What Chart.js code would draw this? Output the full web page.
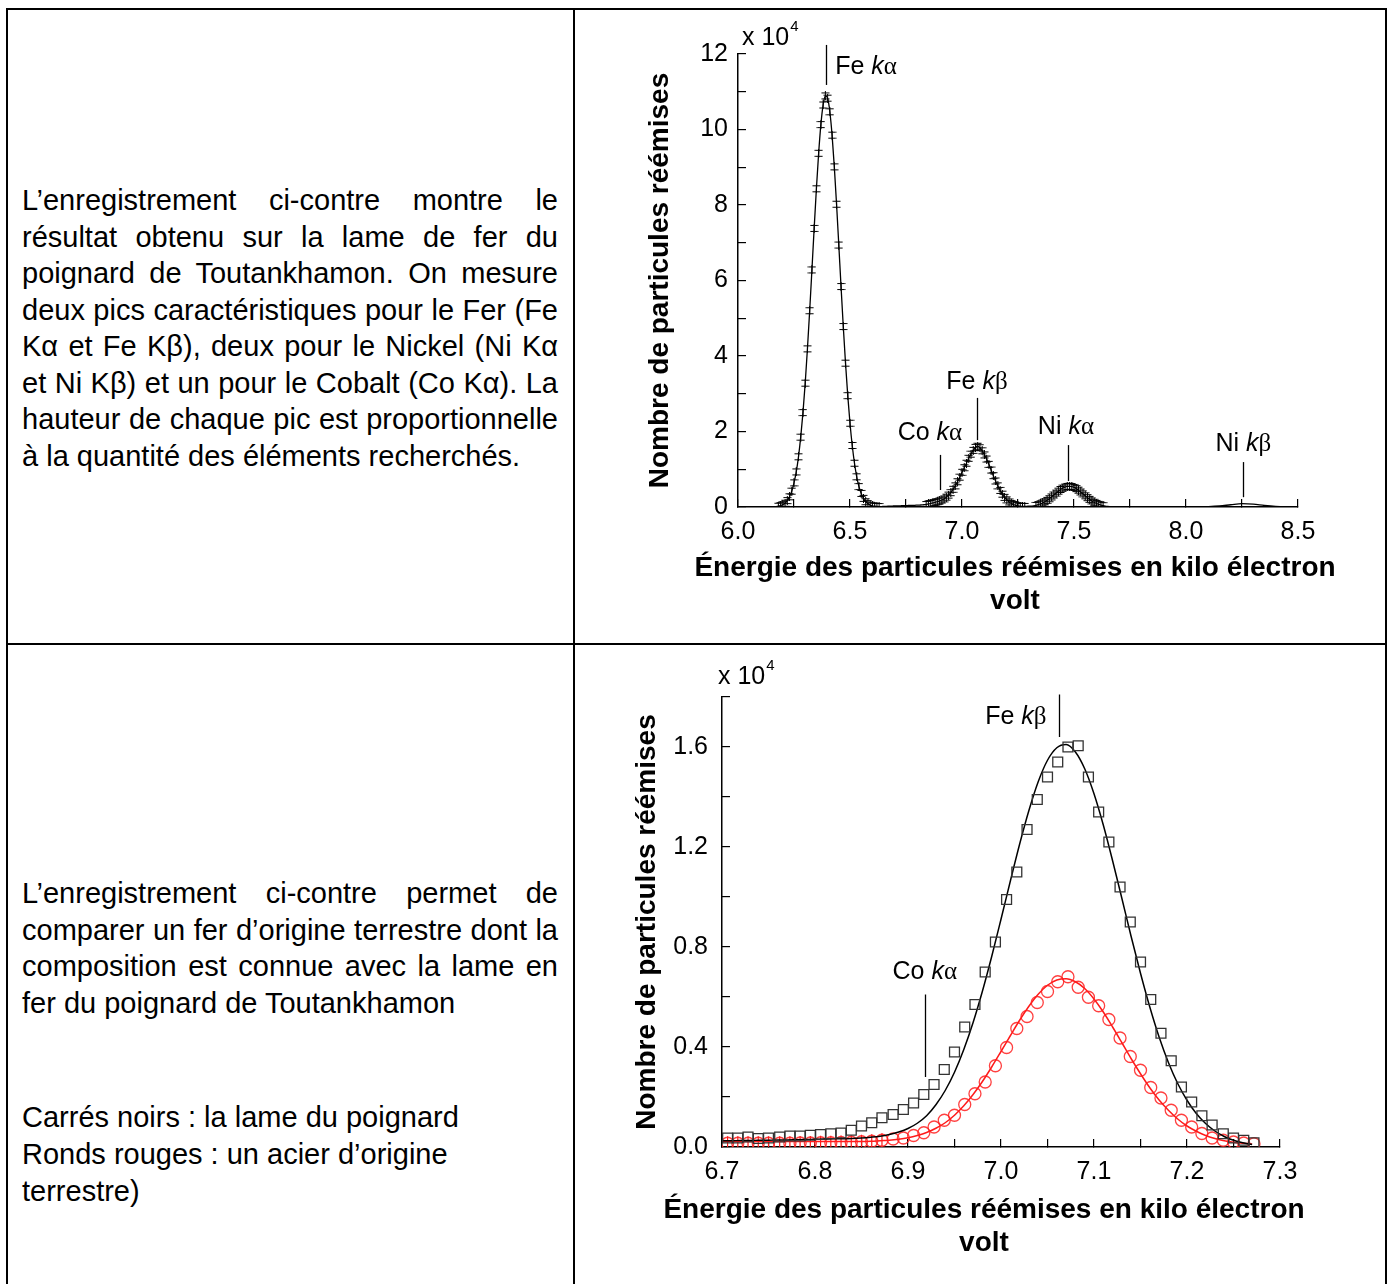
<!DOCTYPE html>
<html lang="fr">
<head>
<meta charset="utf-8">
<title>Fer du poignard de Toutankhamon</title>
<script src="https://cdn.jsdelivr.net/npm/chart.js@4.4.1/dist/chart.umd.min.js"></script>
<style>
  html, body { margin: 0; padding: 0; background: #fff; }
  body { width: 1391px; height: 1284px; position: relative; overflow: hidden; font-family: "Liberation Sans", Arial, sans-serif; color: #000; }
  .trait { position: absolute; background: #000; }
  .texte { position: absolute; left: 22px; width: 536px; font-size: 29px; line-height: 36.5px; }
  .texte div { white-space: nowrap; }
  .texte .j { text-align: justify; text-align-last: justify; white-space: normal; }
  canvas { position: absolute; }
</style>
</head>
<body>

<div class="trait" style="left:6px;top:8px;width:1381px;height:2px"></div>
<div class="trait" style="left:6px;top:8px;width:2px;height:1290px"></div>
<div class="trait" style="left:573px;top:8px;width:2px;height:1290px"></div>
<div class="trait" style="left:1385px;top:8px;width:2px;height:1290px"></div>
<div class="trait" style="left:6px;top:643px;width:1381px;height:2px"></div>

<div class="texte" style="top:182px">
  <div class="j">L’enregistrement ci-contre montre le</div>
  <div class="j">résultat obtenu sur la lame de fer du</div>
  <div class="j">poignard de Toutankhamon. On mesure</div>
  <div class="j">deux pics caractéristiques pour le Fer (Fe</div>
  <div class="j">Kα et Fe Kβ), deux pour le Nickel (Ni Kα</div>
  <div class="j">et Ni Kβ) et un pour le Cobalt (Co Kα). La</div>
  <div class="j">hauteur de chaque pic est proportionnelle</div>
  <div>à la quantité des éléments recherchés.</div>
</div>

<div class="texte" style="top:875px">
  <div class="j">L’enregistrement ci-contre permet de</div>
  <div class="j">comparer un fer d’origine terrestre dont la</div>
  <div class="j">composition est connue avec la lame en</div>
  <div>fer du poignard de Toutankhamon</div>
  <div>&nbsp;</div>
  <div>&nbsp;</div>
  <div style="margin-top:5px;line-height:37px">Carrés noirs : la lame du poignard</div>
  <div style="line-height:37px">Ronds rouges : un acier d’origine</div>
  <div style="line-height:37px">terrestre)</div>
</div>

<canvas id="spectre" width="800" height="620" style="left:580px;top:12px"></canvas>
<canvas id="zoomKb" width="800" height="620" style="left:580px;top:650px"></canvas>

<script>
// --- spectre complet (énergie en keV, comptage en x 10^4) ---
const ENERGIE_1 = [
  6.00, 6.05, 6.10,
  6.15, 6.16, 6.17, 6.18, 6.19, 6.20, 6.21, 6.22, 6.23, 6.24,
  6.25, 6.26, 6.27, 6.28, 6.29, 6.30, 6.31, 6.32, 6.33, 6.34,
  6.35, 6.36, 6.37, 6.38, 6.39, 6.40, 6.41, 6.42, 6.43, 6.44,
  6.45, 6.46, 6.47, 6.48, 6.49, 6.50, 6.51, 6.52, 6.53, 6.54,
  6.55, 6.56, 6.57, 6.58, 6.59, 6.60, 6.61, 6.62, 6.63, 6.64,
  6.65, 6.66, 6.67, 6.68, 6.69, 6.70, 6.71, 6.72, 6.73, 6.74,
  6.75, 6.76, 6.77, 6.78, 6.79, 6.80, 6.81, 6.82, 6.83, 6.84,
  6.85, 6.86, 6.87, 6.88, 6.89, 6.90, 6.91, 6.92, 6.93, 6.94,
  6.95, 6.96, 6.97, 6.98, 6.99, 7.00, 7.01, 7.02, 7.03, 7.04,
  7.05, 7.06, 7.07, 7.08, 7.09, 7.10, 7.11, 7.12, 7.13, 7.14,
  7.15, 7.16, 7.17, 7.18, 7.19, 7.20, 7.21, 7.22, 7.23, 7.24,
  7.25, 7.26, 7.27, 7.28, 7.29, 7.30, 7.31, 7.32, 7.33, 7.34,
  7.35, 7.36, 7.37, 7.38, 7.39, 7.40, 7.41, 7.42, 7.43, 7.44,
  7.45, 7.46, 7.47, 7.48, 7.49, 7.50, 7.51, 7.52, 7.53, 7.54,
  7.55, 7.56, 7.57, 7.58, 7.59, 7.60, 7.61, 7.62, 7.63, 7.64,
  7.65, 7.66, 7.67, 7.68, 7.69,
  7.75, 7.80, 7.85, 7.90, 7.95, 8.00, 8.05, 8.10, 8.15, 8.20,
  8.25, 8.30, 8.35, 8.40, 8.45, 8.50
];
const COMPTAGE_1 = [
  0.002, 0.002, 0.002,
  0.003, 0.006, 0.011, 0.02, 0.036, 0.062, 0.10, 0.17, 0.27, 0.42,
  0.64, 0.93, 1.33, 1.85, 2.50, 3.28, 4.19, 5.20, 6.28, 7.38,
  8.43, 9.37, 10.13, 10.65, 10.89, 10.83, 10.47, 9.85, 9.01, 8.02,
  6.94, 5.84, 4.78, 3.81, 2.95, 2.22, 1.63, 1.16, 0.80, 0.54,
  0.36, 0.23, 0.14, 0.09, 0.05, 0.03, 0.02, 0.015, 0.012, 0.012,
  0.015, 0.018, 0.02, 0.02, 0.025, 0.03, 0.03, 0.03, 0.035, 0.035,
  0.035, 0.04, 0.04, 0.045, 0.045, 0.05, 0.05, 0.055, 0.06, 0.066,
  0.08, 0.093, 0.11, 0.124, 0.14, 0.16, 0.185, 0.215, 0.26, 0.315,
  0.38, 0.47, 0.56, 0.67, 0.79, 0.92, 1.04, 1.16, 1.29, 1.40,
  1.50, 1.58, 1.61, 1.57, 1.49, 1.38, 1.27, 1.13, 0.98, 0.83,
  0.69, 0.56, 0.44, 0.34, 0.255, 0.19, 0.135, 0.095, 0.065, 0.045,
  0.03, 0.02, 0.015, 0.015, 0.018, 0.023, 0.024, 0.032, 0.043, 0.06,
  0.08, 0.106, 0.138, 0.177, 0.22, 0.268, 0.318, 0.369, 0.419, 0.464,
  0.501, 0.529, 0.546, 0.55, 0.541, 0.519, 0.487, 0.446, 0.399, 0.349,
  0.298, 0.248, 0.202, 0.161, 0.125, 0.095, 0.07, 0.051, 0.036, 0.025,
  0.017, 0.011, 0.007, 0.005, 0.003,
  0.002, 0.002, 0.002, 0.003, 0.003, 0.004, 0.007, 0.012, 0.028, 0.06,
  0.088, 0.076, 0.04, 0.014, 0.004, 0.002
];
const TICKS_X_1 = { min: 6.0, max: 8.5, pas: 0.25, pasLabel: 0.5 };
const TICKS_Y_1 = { min: 0, max: 12, pas: 1, pasLabel: 2 };

// --- zoom sur Fe Kβ : points mesurés ---
const ENERGIE_2 = [
  6.706, 6.717, 6.728, 6.739, 6.750, 6.762, 6.773, 6.784, 6.795, 6.806,
  6.817, 6.828, 6.839, 6.850, 6.861, 6.872, 6.884, 6.895, 6.906, 6.917,
  6.928, 6.939, 6.950, 6.961, 6.972, 6.983, 6.994, 7.006, 7.017, 7.028,
  7.039, 7.050, 7.061, 7.072, 7.083, 7.094, 7.105, 7.116, 7.128, 7.139,
  7.150, 7.161, 7.172, 7.183, 7.194, 7.205, 7.216, 7.227, 7.239, 7.250,
  7.261, 7.272
];
const POIGNARD = [
  0.036, 0.036, 0.040, 0.034, 0.036, 0.040, 0.044, 0.044, 0.047, 0.050,
  0.053, 0.056, 0.067, 0.084, 0.097, 0.117, 0.13, 0.15, 0.176, 0.21,
  0.25, 0.31, 0.38, 0.48, 0.57, 0.70, 0.82, 0.99, 1.10, 1.27,
  1.39, 1.48, 1.54, 1.60, 1.605, 1.48, 1.34, 1.22, 1.04, 0.90,
  0.74, 0.59, 0.455, 0.345, 0.24, 0.18, 0.125, 0.088, 0.053, 0.036,
  0.027, 0.017
];
const ACIER = [
  0.015, 0.015, 0.015, 0.015, 0.015, 0.015, 0.015, 0.016, 0.016, 0.017,
  0.017, 0.018, 0.019, 0.021, 0.023, 0.027, 0.032, 0.036, 0.046, 0.057,
  0.08, 0.107, 0.127, 0.17, 0.213, 0.26, 0.325, 0.398, 0.474, 0.522,
  0.578, 0.622, 0.661, 0.681, 0.639, 0.599, 0.565, 0.51, 0.436, 0.362,
  0.307, 0.238, 0.196, 0.147, 0.107, 0.08, 0.054, 0.036, 0.027, 0.02,
  0.016, 0.013
];
const N_BARRES_ACIER = 16;

// --- zoom sur Fe Kβ : courbes ajustées ---
const ENERGIE_AJUST = [
  6.70, 6.71, 6.72, 6.73, 6.74, 6.75, 6.76, 6.77, 6.78, 6.79,
  6.80, 6.81, 6.82, 6.83, 6.84, 6.85, 6.86, 6.87, 6.88, 6.89,
  6.90, 6.91, 6.92, 6.93, 6.94, 6.95, 6.96, 6.97, 6.98, 6.99,
  7.00, 7.01, 7.02, 7.03, 7.04, 7.05, 7.06, 7.07, 7.08, 7.09,
  7.10, 7.11, 7.12, 7.13, 7.14, 7.15, 7.16, 7.17, 7.18, 7.19,
  7.20, 7.21, 7.22, 7.23, 7.24, 7.25, 7.26, 7.27
];
const AJUST_POIGNARD = [
  0.025, 0.025, 0.026, 0.026, 0.027, 0.027, 0.028, 0.028, 0.029, 0.03,
  0.031, 0.032, 0.033, 0.033, 0.034, 0.036, 0.039, 0.043, 0.05, 0.06,
  0.074, 0.095, 0.125, 0.169, 0.226, 0.299, 0.39, 0.498, 0.623, 0.762,
  0.911, 1.063, 1.211, 1.346, 1.461, 1.547, 1.597, 1.61, 1.58, 1.513,
  1.413, 1.288, 1.145, 0.994, 0.841, 0.695, 0.56, 0.44, 0.338, 0.254,
  0.187, 0.134, 0.094, 0.064, 0.042, 0.027, 0.017, 0.01
];
const AJUST_ACIER = [
  0.022, 0.022, 0.022, 0.022, 0.022, 0.022, 0.022, 0.022, 0.022, 0.022,
  0.022, 0.022, 0.022, 0.022, 0.022, 0.022, 0.023, 0.025, 0.027, 0.031,
  0.037, 0.046, 0.058, 0.075, 0.097, 0.127, 0.165, 0.21, 0.262, 0.32,
  0.382, 0.445, 0.507, 0.563, 0.611, 0.647, 0.668, 0.673, 0.661, 0.634,
  0.592, 0.54, 0.48, 0.417, 0.353, 0.293, 0.237, 0.188, 0.147, 0.112,
  0.084, 0.063, 0.046, 0.034, 0.025, 0.019, 0.015, 0.012
];
const TICKS_X_2 = { min: 6.7, max: 7.3, pas: 0.05, pasLabel: 0.1 };
const TICKS_Y_2 = { min: 0, max: 1.8, pas: 0.2, pasLabel: 0.4 };

const TITRE_X = ["Énergie des particules réémises en kilo électron", "volt"];
const TITRE_Y = "Nombre de particules réémises";

// repères des raies (valeurs en unités des axes)
const RAIES_1 = [
  { nom: "Fe", raie: "α", x: 6.393, y0: 12.24, y1: 11.18, tx: 6.434, ty: 11.65, align: "left" },
  { nom: "Fe", raie: "β", x: 7.067, y0: 2.89, y1: 1.77, tx: 7.067, ty: 3.30, align: "center" },
  { nom: "Co", raie: "α", x: 6.902, y0: 1.38, y1: 0.45, tx: 6.857, ty: 1.95, align: "center" },
  { nom: "Ni", raie: "α", x: 7.473, y0: 1.64, y1: 0.69, tx: 7.464, ty: 2.11, align: "center" },
  { nom: "Ni", raie: "β", x: 8.254, y0: 1.19, y1: 0.26, tx: 8.256, ty: 1.66, align: "center" },
];
const RAIES_2 = [
  { nom: "Fe", raie: "β", x: 7.062, y0: 1.81, y1: 1.64, tx: 7.049, ty: 1.72, align: "right" },
  { nom: "Co", raie: "α", x: 6.918, y0: 0.61, y1: 0.28, tx: 6.918, ty: 0.70, align: "center" },
];

const POLICE = '"Liberation Sans", Arial, sans-serif';
const ZONES_MARQUEURS = [[6.18, 6.63], [6.84, 7.28], [7.33, 7.63]];

Chart.defaults.font.family = POLICE;
Chart.defaults.color = "#000";

// marqueur "barre d'erreur" du spectre
const marqueur = document.createElement("canvas");
marqueur.width = 9;
marqueur.height = 9;
(function () {
  const m = marqueur.getContext("2d");
  m.strokeStyle = "#000";
  m.lineWidth = 1;
  m.beginPath();
  m.moveTo(4.5, 0); m.lineTo(4.5, 9);
  m.moveTo(0.5, 1.5); m.lineTo(8.5, 1.5);
  m.moveTo(0.5, 7.5); m.lineTo(8.5, 7.5);
  m.stroke();
})();

const multiple = (v, pas) => Math.abs(v / pas - Math.round(v / pas)) < 1e-6;

function etiquetteRaie(ctx, nom, raie, px, py, align) {
  const morceaux = [
    { t: nom + " ", f: "25px " + POLICE },
    { t: "k", f: "italic 25px " + POLICE },
    { t: raie, f: '25px "Liberation Serif", "DejaVu Serif", serif' },
  ];
  let total = 0;
  morceaux.forEach((m) => { ctx.font = m.f; m.w = ctx.measureText(m.t).width; total += m.w; });
  let x = align === "left" ? px : align === "right" ? px - total : px - total / 2;
  ctx.textAlign = "left";
  ctx.textBaseline = "middle";
  morceaux.forEach((m) => { ctx.font = m.f; ctx.fillText(m.t, x, py); x += m.w; });
}

const habillage = {
  id: "habillage",
  afterDraw(chart, args, opts) {
    const { ctx, chartArea: a, scales: { x, y } } = chart;
    ctx.save();
    ctx.fillStyle = "#000";
    ctx.strokeStyle = "#000";
    ctx.lineWidth = 1.3;
    (opts.raies || []).forEach((r) => {
      const px = Math.round(x.getPixelForValue(r.x)) + 0.5;
      ctx.beginPath();
      ctx.moveTo(px, y.getPixelForValue(r.y0));
      ctx.lineTo(px, y.getPixelForValue(r.y1));
      ctx.stroke();
      etiquetteRaie(ctx, r.nom, r.raie, x.getPixelForValue(r.tx), y.getPixelForValue(r.ty), r.align);
    });
    // facteur x 10^4
    const p = opts.puissance;
    ctx.textAlign = "left";
    ctx.textBaseline = "middle";
    ctx.font = "25px " + POLICE;
    const base = "x 10";
    ctx.fillText(base, a.left + p.dx, a.top + p.dy);
    const wb = ctx.measureText(base).width;
    ctx.font = "15px " + POLICE;
    ctx.fillText("4", a.left + p.dx + wb + 1, a.top + p.dy - 11);
    // titre de l'axe des x
    const t = opts.titreX;
    ctx.font = "bold 28px " + POLICE;
    ctx.textAlign = "center";
    const cx = (a.left + a.right) / 2 + t.dx;
    TITRE_X.forEach((ligne, i) => ctx.fillText(ligne, cx, a.bottom + t.dy + i * t.interligne));
    ctx.restore();
  },
};

function echelles(tx, ty, yPadTitre, yPadTicks, largeurY, hauteurX) {
  return {
    x: {
      type: "linear", min: tx.min, max: tx.max,
      afterFit: (s) => { s.height = hauteurX; },
      border: { display: true, color: "#000", width: 1.5 },
      grid: { display: true, drawOnChartArea: false, drawTicks: true, tickLength: -8, color: "#000", lineWidth: 1.2 },
      ticks: {
        stepSize: tx.pas, autoSkip: false, maxRotation: 0, padding: 18,
        font: { size: 25 }, color: "#000",
        callback: (v) => (multiple(v, tx.pasLabel) ? Number(v).toFixed(1) : ""),
      },
    },
    y: {
      type: "linear", min: ty.min, max: ty.max,
      afterFit: (s) => { s.width = largeurY; },
      border: { display: true, color: "#000", width: 1.5 },
      grid: { display: true, drawOnChartArea: false, drawTicks: true, tickLength: -8, color: "#000", lineWidth: 1.2 },
      ticks: {
        stepSize: ty.pas, autoSkip: false, padding: yPadTicks,
        font: { size: 25 }, color: "#000",
        callback: (v) => (multiple(v, ty.pasLabel) ? (ty.pasLabel < 1 ? Number(v).toFixed(1) : String(v)) : ""),
      },
      title: { display: true, text: TITRE_Y, color: "#000", font: { size: 28, weight: "bold" }, padding: { top: yPadTitre, bottom: 0 } },
    },
  };
}

const points = (xs, ys) => xs.map((e, i) => ({ x: e, y: ys[i] }));
const dansZone = (e) => ZONES_MARQUEURS.some(([a, b]) => e >= a && e <= b);

new Chart(document.getElementById("spectre"), {
  type: "line",
  data: {
    datasets: [{
      label: "Lame du poignard",
      data: points(ENERGIE_1, COMPTAGE_1),
      borderColor: "#000",
      borderWidth: 1.3,
      cubicInterpolationMode: "monotone",
      pointStyle: marqueur,
      pointRadius: (c) => (c.raw && dansZone(c.raw.x) ? 4 : 0),
      fill: false,
    }],
  },
  options: {
    responsive: false,
    animation: false,
    layout: { padding: { top: 42, right: 82, bottom: 80, left: 0 } },
    plugins: {
      legend: { display: false },
      tooltip: { enabled: false },
      habillage: { raies: RAIES_1, puissance: { dx: 4, dy: -16 }, titreX: { dx: -3, dy: 61, interligne: 33 } },
    },
    scales: echelles(TICKS_X_1, TICKS_Y_1, 63, 18, 158, 45),
  },
  plugins: [habillage],
});

new Chart(document.getElementById("zoomKb"), {
  type: "line",
  data: {
    datasets: [
      {
        label: "Lame du poignard",
        data: points(ENERGIE_2, POIGNARD),
        showLine: false,
        pointStyle: "rect",
        pointRadius: 7,
        pointBorderColor: "#333",
        pointBackgroundColor: "rgba(0,0,0,0)",
        pointBorderWidth: 1.3,
      },
      {
        label: "Ajustement poignard",
        data: points(ENERGIE_AJUST, AJUST_POIGNARD),
        borderColor: "#000",
        borderWidth: 1.5,
        pointRadius: 0,
        cubicInterpolationMode: "monotone",
      },
      {
        label: "Acier terrestre",
        data: points(ENERGIE_2, ACIER),
        showLine: false,
        pointStyle: "circle",
        pointRadius: 6,
        pointBorderColor: "rgba(255,30,30,0.85)",
        pointBackgroundColor: "rgba(0,0,0,0)",
        pointBorderWidth: 1.3,
      },
      {
        label: "Ajustement acier",
        data: points(ENERGIE_AJUST, AJUST_ACIER),
        borderColor: "#ff1a1a",
        borderWidth: 1.5,
        pointRadius: 0,
        cubicInterpolationMode: "monotone",
      },
      {
        label: "Barres d'erreur acier",
        data: points(ENERGIE_2.slice(0, N_BARRES_ACIER), ACIER.slice(0, N_BARRES_ACIER)),
        showLine: false,
        pointStyle: "line",
        rotation: 90,
        pointRadius: 7,
        pointBorderColor: "#ff1a1a",
        pointBorderWidth: 1.2,
      },
    ],
  },
  options: {
    responsive: false,
    animation: false,
    layout: { padding: { top: 47, right: 100, bottom: 76, left: 0 } },
    plugins: {
      legend: { display: false },
      tooltip: { enabled: false },
      habillage: { raies: RAIES_2, puissance: { dx: -4, dy: -20 }, titreX: { dx: -17, dy: 63, interligne: 33 } },
    },
    scales: echelles(TICKS_X_2, TICKS_Y_2, 50, 22, 142, 47),
  },
  plugins: [habillage],
});
</script>
</body>
</html>
